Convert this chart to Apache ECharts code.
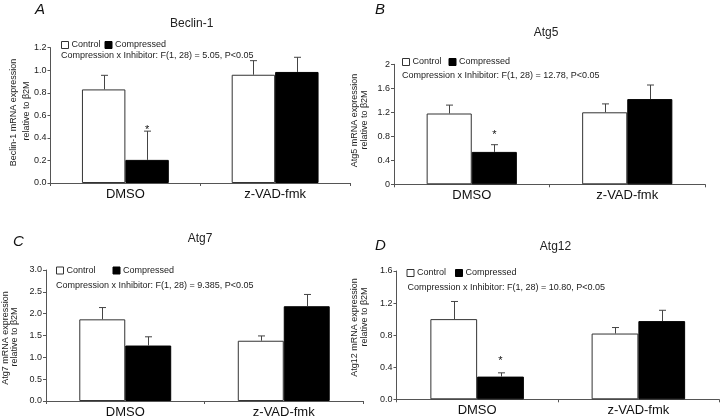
<!DOCTYPE html>
<html>
<head>
<meta charset="utf-8">
<script src="https://cdn.jsdelivr.net/npm/echarts@6/dist/echarts.min.js"></script>
<style>html,body{margin:0;padding:0;background:#fff}#c{width:720px;height:419px}</style>
</head>
<body>
<div id="c"></div>
<script>
// ---------- data ----------
const categories = ['DMSO', 'z-VAD-fmk'];
const seriesNames = ['Control', 'Compressed'];
const panelLetters = ['A', 'B', 'C', 'D'];
const panelTitles = ['Beclin-1', 'Atg5', 'Atg7', 'Atg12'];
const yNames = [
  ['Beclin-1 mRNA expression', 'relative to β2M'],
  ['Atg5 mRNA expression', 'relative to β2M'],
  ['Atg7 mRNA expression', 'relative to β2M'],
  ['Atg12 mRNA expression', 'relative to β2M']
];
const statTexts = [
  'Compression x Inhibitor: F(1, 28) = 5.05, P<0.05',
  'Compression x Inhibitor: F(1, 28) = 12.78, P<0.05',
  'Compression x Inhibitor: F(1, 28) = 9.385, P<0.05',
  'Compression x Inhibitor: F(1, 28) = 10.80, P<0.05'
];
// y ticks: min, max, interval, decimals
const yTicks = [
  [0, 1.2, 0.2, 1],
  [0, 2, 0.4, -1],
  [0, 3.0, 0.5, 1],
  [0, 1.6, 0.4, 1]
];
const beclinControl = [0.83, 0.96];
const beclinControlErr = [0.125, 0.125];
const beclinCompressed = [0.205, 0.985];
const beclinCompressedErr = [0.255, 0.13];
const atg5Control = [1.18, 1.20];
const atg5ControlErr = [0.14, 0.14];
const atg5Compressed = [0.54, 1.42];
const atg5CompressedErr = [0.12, 0.235];
const atg7Control = [1.87, 1.38];
const atg7ControlErr = [0.27, 0.11];
const atg7Compressed = [1.27, 2.17];
const atg7CompressedErr = [0.20, 0.27];
const atg12Control = [1.00, 0.82];
const atg12ControlErr = [0.22, 0.075];
const atg12Compressed = [0.283, 0.975];
const atg12CompressedErr = [0.047, 0.135];
// significance stars over compressed bars (value where star is drawn; null = none)
const beclinStars = [0.50, null];
const atg5Stars = [0.88, null];
const atg7Stars = [null, null];
const atg12Stars = [0.52, null];

const controls = [beclinControl, atg5Control, atg7Control, atg12Control];
const controlErrs = [beclinControlErr, atg5ControlErr, atg7ControlErr, atg12ControlErr];
const compresseds = [beclinCompressed, atg5Compressed, atg7Compressed, atg12Compressed];
const compressedErrs = [beclinCompressedErr, atg5CompressedErr, atg7CompressedErr, atg12CompressedErr];
const stars = [beclinStars, atg5Stars, atg7Stars, atg12Stars];

// ---------- layout ----------
const FONT = '"Liberation Sans", Arial, sans-serif';
const grids = [
  {left: 50.5, top: 47.7, width: 299.5, height: 135.3},
  {left: 394, top: 64.3, width: 311, height: 120},
  {left: 46, top: 270, width: 317, height: 131},
  {left: 396.5, top: 271, width: 322.5, height: 128.3}
];
const legendPos = [
  {left: 61, top: 40.5, gap: 4},
  {left: 402, top: 57.5, gap: 7},
  {left: 56, top: 266, gap: 17},
  {left: 406.5, top: 268.5, gap: 9}
];
const statPos = [[61, 56], [402, 76], [56, 286], [407.5, 287.5]];
const letterPos = [[35, 11], [375, 11], [13, 243.5], [375, 247.5]];
const titlePos = [[191.7, 23.5], [546, 33], [200, 238.5], [555.5, 246.5]];
const yNamePos = [
  [[13.5, 112.5], [26.5, 111]],
  [[355, 120.5], [365, 120]],
  [[6, 338], [14.5, 337]],
  [[355, 327.5], [365, 317]]
];
const BARW = 0.29;

const option = {
  animation: false,
  backgroundColor: '#fff',
  grid: grids.map(g => Object.assign({containLabel: false}, g)),
  legend: legendPos.map(p => ({
    data: seriesNames,
    left: p.left, top: p.top,
    itemGap: p.gap, itemWidth: 7, itemHeight: 7,
    icon: 'rect',
    padding: 0,
    itemStyle: {borderWidth: 1},
    textStyle: {fontSize: 9, fontFamily: FONT, color: '#222', padding: [0, 0, 0, -2]},
    selectedMode: false
  })),
  xAxis: grids.map((g, i) => ({
    type: 'category', gridIndex: i, data: categories,
    boundaryGap: true,
    axisLine: {lineStyle: {color: '#555', width: 1}},
    axisTick: {show: true, length: 3, lineStyle: {color: '#555'}},
    axisLabel: {fontSize: 13, fontFamily: FONT, color: '#111', margin: 5}
  })),
  yAxis: yTicks.map((t, i) => ({
    type: 'value', gridIndex: i, min: t[0], max: t[1], interval: t[2],
    axisLine: {show: true, lineStyle: {color: '#555', width: 1}},
    axisTick: {show: true, length: 3, lineStyle: {color: '#555'}},
    splitLine: {show: false},
    axisLabel: {fontSize: 9, fontFamily: FONT, color: '#222', margin: 4,
      formatter: v => t[3] < 0 ? String(+v.toFixed(2)) : v.toFixed(t[3])}
  })),
  series: [],
  graphic: []
};

for (let i = 0; i < 4; i++) {
  option.series.push({
    name: 'Control', type: 'bar', xAxisIndex: i, yAxisIndex: i,
    data: controls[i], barWidth: (BARW * 100) + '%', barGap: '0%',
    itemStyle: {color: '#fff', borderColor: '#333', borderWidth: 1}
  });
  option.series.push({
    name: 'Compressed', type: 'bar', xAxisIndex: i, yAxisIndex: i,
    data: compresseds[i], barWidth: (BARW * 100) + '%', barGap: '0%',
    itemStyle: {color: '#000', borderColor: '#000', borderWidth: 1}
  });
  const errData = [];
  for (let c = 0; c < categories.length; c++) {
    errData.push([c, controls[i][c], controlErrs[i][c], 0]);
    errData.push([c, compresseds[i][c], compressedErrs[i][c], 1]);
  }
  option.series.push({
    type: 'custom', xAxisIndex: i, yAxisIndex: i, data: errData, z: 5,
    encode: {x: 0, y: 1},
    renderItem: (params, api) => {
      const cat = api.value(0), v = api.value(1), e = api.value(2), s = api.value(3);
      const band = api.size([1, 0])[0];
      const off = (s === 0 ? -1 : 1) * band * BARW / 2;
      const p0 = api.coord([cat, v]);
      const p1 = api.coord([cat, v + e]);
      const x = Math.round(p0[0] + off) + 0.5;
      const style = {stroke: '#444', lineWidth: 1};
      return {type: 'group', children: [
        {type: 'line', shape: {x1: x, y1: p0[1], x2: x, y2: p1[1]}, style},
        {type: 'line', shape: {x1: x - 3.5, y1: p1[1], x2: x + 3.5, y2: p1[1]}, style}
      ]};
    }
  });
  const starData = [];
  stars[i].forEach((sv, c) => { if (sv !== null) starData.push([c, sv]); });
  option.series.push({
    type: 'custom', xAxisIndex: i, yAxisIndex: i, data: starData, z: 6,
    encode: {x: 0, y: 1},
    renderItem: (params, api) => {
      const cat = api.value(0), v = api.value(1);
      const band = api.size([1, 0])[0];
      const p = api.coord([cat, v]);
      return {type: 'text', x: p[0] + band * BARW / 2, y: p[1] + 3,
        style: {text: '*', fontSize: 11, fontFamily: FONT, fill: '#111', align: 'center', verticalAlign: 'middle'}};
    }
  });

  option.graphic.push({type: 'text', left: letterPos[i][0], top: letterPos[i][1] - 9,
    style: {text: panelLetters[i], fontSize: 15, fontStyle: 'italic', fontWeight: 'normal', fontFamily: FONT, fill: '#111'}});
  option.graphic.push({type: 'text', x: titlePos[i][0], y: titlePos[i][1],
    style: {text: panelTitles[i], fontSize: 12, fontWeight: 'normal', fontFamily: FONT, fill: '#222', align: 'center', verticalAlign: 'middle'}});
  option.graphic.push({type: 'text', x: statPos[i][0], y: statPos[i][1],
    style: {text: statTexts[i], fontSize: 9, fontFamily: FONT, fill: '#222', align: 'left', verticalAlign: 'middle'}});
  yNames[i].forEach((t, k) => {
    option.graphic.push({type: 'text', x: yNamePos[i][k][0], y: yNamePos[i][k][1], rotation: Math.PI / 2,
      style: {text: t, fontSize: 9, fontFamily: FONT, fill: '#222', align: 'center', verticalAlign: 'middle'}});
  });
}

const chart = echarts.init(document.getElementById('c'), null, {renderer: 'canvas'});
chart.setOption(option);
</script>
</body>
</html>
